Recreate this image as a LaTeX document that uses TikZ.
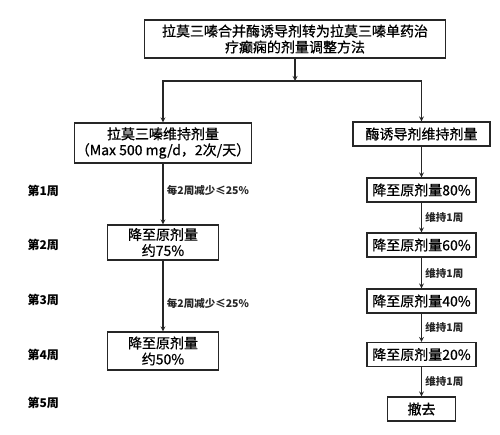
\documentclass[tikz,border=0pt]{standalone}
\usepackage{fontspec}
\setmainfont{Noto Sans CJK SC}
\newfontfamily\boxfont{Noto Sans CJK SC}[FakeBold=0.7]
\usetikzlibrary{positioning}
\tikzset{>=stealth}
\colorlet{penColor}{black!85}
\tikzset{box/.style={draw=penColor, line width=1.2pt, inner sep=1pt, align=center, font=\boxfont\fontsize{14}{16}\selectfont},
  week/.style={right, font=\bfseries\fontsize{12}{14}\selectfont},
  lbl/.style={right, font=\bfseries\fontsize{10.5}{12}\selectfont},
  arr/.style={->, penColor, line width=1.2pt}}

\begin{document}
\begin{tikzpicture}[x=1pt,y=1pt]
\useasboundingbox[fill=white] (0,0) rectangle (500,434);
\node [box, minimum width=301pt, minimum height=38pt] (top) at (295,395) {拉莫三嗪合并酶诱导剂转为拉莫三嗪单药治\\疗癫痫的剂量调整方法};
\coordinate (split) at (295,353);
\node [box, minimum width=177pt, minimum height=40pt] (L1) at (163,291) {拉莫三嗪维持剂量\\（Max 500 mg/d，2次/天）};
\node [box, minimum width=137pt, minimum height=24pt] (R1) at (421.5,300) {酶诱导剂维持剂量};
\node [box, minimum width=111pt, minimum height=35pt] (L2) at (163,191.5) {降至原剂量\\约75\%};
\node [box, minimum width=111pt, minimum height=38pt] (L3) at (163,83) {降至原剂量\\约50\%};
\node [box, minimum width=109pt, minimum height=24pt] (R2) at (421.5,244) {降至原剂量80\%};
\node [box, minimum width=109pt, minimum height=24pt] (R3) at (421.5,189) {降至原剂量60\%};
\node [box, minimum width=109pt, minimum height=24pt] (R4) at (421.5,133) {降至原剂量40\%};
\node [box, minimum width=109pt, minimum height=24pt] (R5) at (421.5,79.5) {降至原剂量20\%};
\node [box, minimum width=68pt, minimum height=24pt] (R6) at (421.5,25) {撤去};
%weeks
\node [week] (w1) at (24,243) {第1周};
\node [week] (w2) at (24,189) {第2周};
\node [week] (w3) at (24,134) {第3周};
\node [week] (w4) at (24,79) {第4周};
\node [week] (w5) at (24,31) {第5周};
\draw [arr] (top) -- (split);
\draw [arr] (split) -| (L1);
\draw [arr] (split) -| (R1);
\draw [arr] (L1) -- node [lbl, pos=0.45] {每2周减少≤25\%} (L2);
\draw [arr] (L2) -- node [lbl, pos=0.6] {每2周减少≤25\%} (L3);
\draw [arr] (R1) -- (R2);
\draw [arr] (R2) -- node [lbl] {维持1周} (R3);
\draw [arr] (R3) -- node [lbl] {维持1周} (R4);
\draw [arr] (R4) -- node [lbl] {维持1周} (R5);
\draw [arr] (R5) -- node [lbl] {维持1周} (R6);
\end{tikzpicture}
\end{document}
